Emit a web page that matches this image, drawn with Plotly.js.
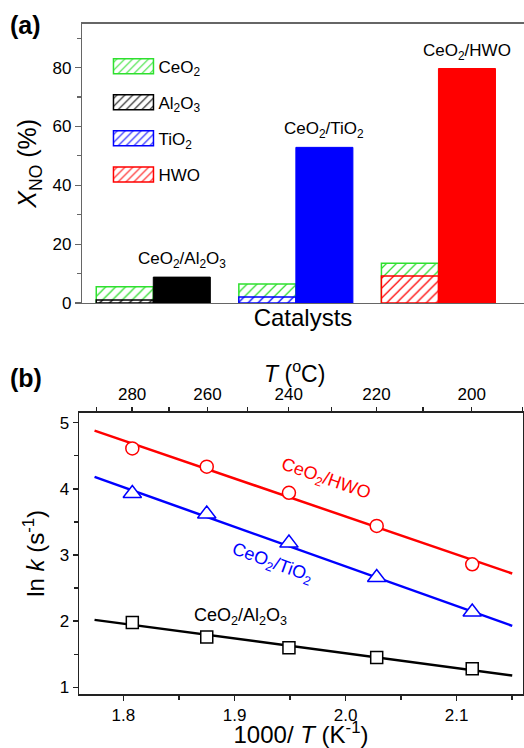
<!DOCTYPE html>
<html>
<head>
<meta charset="utf-8">
<script src="https://cdn.plot.ly/plotly-3.0.1.min.js"></script>
<style>html,body{margin:0;padding:0;background:#fff;}#chart{width:524px;height:748px;}</style>
</head>
<body>
<div id="chart"></div>
<script>
// ---------- Panel (a) data ----------
const groupPos = [1, 2, 3];
const ceo2Vals = [5.5, 6.5, 13.5];
const supportNames = ['Al<sub>2</sub>O<sub>3</sub>', 'TiO<sub>2</sub>', 'HWO'];
const supportVals = [1.0, 2.0, 9.2];
const catalystNames = ['CeO<sub>2</sub>/Al<sub>2</sub>O<sub>3</sub>', 'CeO<sub>2</sub>/TiO<sub>2</sub>', 'CeO<sub>2</sub>/HWO'];
const catalystVals = [8.8, 52.9, 79.7];
const yTicksA = [0, 20, 40, 60, 80];

// ---------- Panel (b) data ----------
const tempC = [280, 260, 240, 220, 200];
const tempMinorC = [290, 270, 250, 230, 210, 190];
const invT = [1.808, 1.875, 1.949, 2.028, 2.114];
const lnkHWO = [4.61, 4.335, 3.94, 3.44, 2.86];
const lnkTiO2 = [3.93, 3.62, 3.18, 2.66, 2.14];
const lnkAl2O3 = [1.98, 1.76, 1.60, 1.45, 1.28];
const fitX = [1.774, 2.150];
const fitHWO = [4.88, 2.72];
const fitTiO2 = [4.18, 1.93];
const fitAl2O3 = [2.02, 1.18];

const FONT = 'Liberation Sans, Arial, Helvetica, sans-serif';
const green = '#2ee02e', blue = '#0000ff', red = '#ff0000', black = '#000000';
const supportColors = [black, blue, red];

function hatch(color) {
  return {
    color: 'white',
    line: {color: color, width: 1.5},
    pattern: {shape: '/', fgcolor: color, bgcolor: 'white', size: 7, solidity: 0.18}
  };
}

const data = [];
data.push({
  type: 'bar', x: groupPos, y: ceo2Vals, name: 'CeO<sub>2</sub>',
  offset: -0.4, width: 0.4, marker: hatch(green), xaxis: 'x', yaxis: 'y',
  legendgroup: 'g0'
});
for (let i = 0; i < 3; i++) {
  data.push({
    type: 'bar', x: [groupPos[i]], y: [supportVals[i]], name: supportNames[i],
    offset: -0.4, width: 0.4, marker: hatch(supportColors[i]), xaxis: 'x', yaxis: 'y',
    legendgroup: 'g' + (i + 1)
  });
}
for (let i = 0; i < 3; i++) {
  data.push({
    type: 'bar', x: [groupPos[i]], y: [catalystVals[i]], name: catalystNames[i],
    offset: 0, width: 0.4, showlegend: false,
    marker: {color: supportColors[i], line: {color: supportColors[i], width: 1}},
    xaxis: 'x', yaxis: 'y'
  });
}

// Panel (b) lines and markers
const series = [
  {y: lnkHWO, fit: fitHWO, color: red, symbol: 'circle', size: 13},
  {y: lnkTiO2, fit: fitTiO2, color: blue, symbol: 'triangle-up', size: 16},
  {y: lnkAl2O3, fit: fitAl2O3, color: black, symbol: 'square', size: 12}
];
series.forEach(s => {
  data.push({type: 'scatter', mode: 'lines', x: fitX, y: s.fit, xaxis: 'x2', yaxis: 'y2',
    line: {color: s.color, width: 2.5}, showlegend: false});
});
series.forEach(s => {
  data.push({type: 'scatter', mode: 'markers', x: invT, y: s.y, xaxis: 'x2', yaxis: 'y2',
    marker: {symbol: s.symbol, size: s.size, color: 'white', line: {color: s.color, width: 1.5}},
    showlegend: false});
});
// invisible trace to activate top axis
data.push({type: 'scatter', mode: 'markers', x: invT, y: lnkHWO, xaxis: 'x3', yaxis: 'y2',
  marker: {opacity: 0}, showlegend: false, hoverinfo: 'skip'});

const toInv = t => 1000 / (t + 273.15);

const axA = '#666666', axB = '#222222';
const layout = {
  width: 524, height: 748,
  margin: {l: 0, r: 0, t: 0, b: 0},
  paper_bgcolor: 'white', plot_bgcolor: 'white',
  font: {family: FONT, size: 17, color: '#000'},
  barmode: 'overlay',
  showlegend: true,
  legend: {
    x: 0.207, y: 0.935, xanchor: 'left', yanchor: 'top',
    bgcolor: 'rgba(0,0,0,0)', font: {size: 17, family: FONT},
    itemwidth: 40, traceorder: 'grouped', tracegroupgap: 11
  },
  xaxis: {
    domain: [82 / 524, 1], range: [0.5, 3.6], anchor: 'y',
    showticklabels: false, ticks: '', showgrid: false, zeroline: false,
    showline: true, linecolor: axA, linewidth: 1.2, mirror: true,
    title: {text: 'Catalysts', font: {size: 24, family: FONT}, standoff: 6}
  },
  yaxis: {
    domain: [1 - 303 / 748, 1 - 23.5 / 748], range: [0, 95], anchor: 'x',
    tickmode: 'array', tickvals: yTicksA, ticks: 'outside', ticklen: 6, tickwidth: 1.2, tickcolor: axA,
    minor: {tickmode: 'linear', tick0: 0, dtick: 10, ticks: 'outside', ticklen: 4, tickcolor: axA, tickwidth: 1.2, showgrid: false},
    showgrid: false, zeroline: false, showline: true, linecolor: axA, linewidth: 1.2,
    tickfont: {size: 17},
    title: {text: '<i>X</i><sub>NO</sub> (%)', font: {size: 25, family: FONT}, standoff: 8}
  },
  xaxis2: {
    domain: [79 / 524, 523 / 524], range: [1.76, 2.1597], anchor: 'y2',
    tickmode: 'array', tickvals: [1.8, 1.9, 2.0, 2.1], ticktext: ['1.8', '1.9', '2.0', '2.1'],
    ticks: 'outside', ticklen: 5, tickwidth: 1.5, tickcolor: axB,
    minor: {tickmode: 'array', tickvals: [1.85, 1.95, 2.05, 2.15], ticks: 'outside', ticklen: 4, tickwidth: 1.5, tickcolor: axB, showgrid: false},
    showgrid: false, zeroline: false, showline: true, linecolor: axB, linewidth: 1.5,
    tickfont: {size: 17},
    title: {text: '1000/ <i>T</i> (K<sup>-1</sup>)', font: {size: 24, family: FONT}, standoff: 6}
  },
  xaxis3: {
    overlaying: 'x2', side: 'top', anchor: 'y2', range: [1.76, 2.1597],
    tickmode: 'array', tickvals: tempC.map(toInv), ticktext: tempC.map(String),
    ticks: 'outside', ticklen: 4, tickwidth: 1.5, tickcolor: axB,
    minor: {tickmode: 'array', tickvals: tempMinorC.map(toInv), ticks: 'outside', ticklen: 4, tickwidth: 1.5, tickcolor: axB, showgrid: false},
    showgrid: false, zeroline: false, showline: true, linecolor: axB, linewidth: 1.5,
    tickfont: {size: 17}
  },
  yaxis2: {
    domain: [1 - 694 / 748, 1 - 412.7 / 748], range: [0.9, 5.15], anchor: 'x2',
    tickmode: 'array', tickvals: [1, 2, 3, 4, 5],
    ticks: 'outside', ticklen: 5, tickwidth: 1.5, tickcolor: axB,
    minor: {tickmode: 'array', tickvals: [1.5, 2.5, 3.5, 4.5], ticks: 'outside', ticklen: 4, tickwidth: 1.5, tickcolor: axB, showgrid: false},
    showgrid: false, zeroline: false, showline: true, linecolor: axB, linewidth: 1.5, mirror: true,
    tickfont: {size: 17},
    title: {text: 'ln <i>k</i> (s<sup>-1</sup>)', font: {size: 24, family: FONT}, standoff: 8}
  },
  annotations: [
    {xref: 'paper', yref: 'paper', x: 8 / 524, y: 1 - 25 / 748, xanchor: 'left', yanchor: 'middle',
     text: '<b>(a)</b>', showarrow: false, font: {size: 25, family: FONT}},
    {xref: 'paper', yref: 'paper', x: 8 / 524, y: 1 - 378 / 748, xanchor: 'left', yanchor: 'middle',
     text: '<b>(b)</b>', showarrow: false, font: {size: 25, family: FONT}},
    {xref: 'paper', yref: 'paper', x: 294 / 524, y: 1 - 372 / 748, xanchor: 'center', yanchor: 'middle',
     text: '<i>T</i> (<sup>o</sup>C)', showarrow: false, borderpad: 0, font: {size: 23, family: FONT}},
    {xref: 'x', yref: 'y', x: groupPos[0] + 0.2, y: catalystVals[0], yanchor: 'bottom', yshift: 4,
     text: catalystNames[0], showarrow: false, font: {size: 17}},
    {xref: 'x', yref: 'y', x: groupPos[1] + 0.2, y: catalystVals[1], yanchor: 'bottom', yshift: 4,
     text: catalystNames[1], showarrow: false, font: {size: 17}},
    {xref: 'x', yref: 'y', x: groupPos[2] + 0.2, y: catalystVals[2], yanchor: 'bottom', yshift: 4,
     text: catalystNames[2], showarrow: false, font: {size: 17}},
    {xref: 'x2', yref: 'y2', x: 1.9815, y: 4.134, text: 'CeO<sub>2</sub>/HWO', textangle: 19,
     showarrow: false, font: {size: 18, color: red}},
    {xref: 'x2', yref: 'y2', x: 1.9336, y: 2.875, text: 'CeO<sub>2</sub>/TiO<sub>2</sub>', textangle: 20,
     showarrow: false, font: {size: 18, color: blue}},
    {xref: 'x2', yref: 'y2', x: 1.905, y: 2.067, text: 'CeO<sub>2</sub>/Al<sub>2</sub>O<sub>3</sub>',
     showarrow: false, font: {size: 18, color: black}}
  ]
};

const gd = document.getElementById('chart');
Plotly.newPlot(gd, data, layout, {staticPlot: true, displayModeBar: false}).then(function () {
  gd.querySelectorAll('.legend .legendpoints path').forEach(function (p) {
    p.setAttribute('d', 'M20,7.5H-20V-7.5H20Z');
  });
});
</script>
</body>
</html>
